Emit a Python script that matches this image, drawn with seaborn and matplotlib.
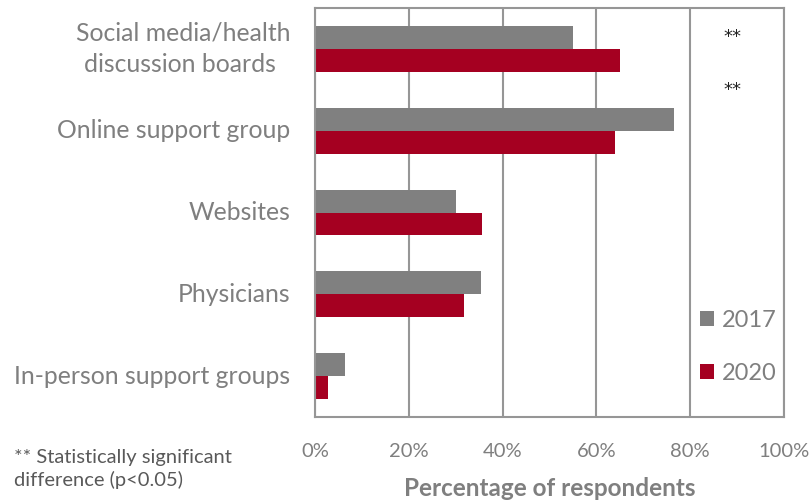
import matplotlib
matplotlib.use("Agg")
import matplotlib.pyplot as plt
from matplotlib.patches import Patch
import seaborn as sns
import pandas as pd

# Information sources and share of respondents (%)
sources = [
    "Social media/health\ndiscussion boards ",
    "Online support group",
    "Websites",
    "Physicians",
    "In-person support groups",
]
years = ["2017", "2020"]
pct_2017 = [55.0, 76.5, 30.0, 35.5, 6.3]
pct_2020 = [65.0, 64.0, 35.6, 31.8, 2.8]
x_ticks = [0, 20, 40, 60, 80, 100]
x_tick_labels = ["0%", "20%", "40%", "60%", "80%", "100%"]

df = pd.DataFrame({
    "source": sources * 2,
    "year": [years[0]] * len(sources) + [years[1]] * len(sources),
    "pct": pct_2017 + pct_2020,
})

GREY = "#808080"
RED = "#A50021"
TEXT = "#7F7F7F"
LINE = "#969696"

sns.set_style("white")
plt.rcParams["font.family"] = ["Lato", "DejaVu Sans"]

fig = plt.figure(figsize=(8.11, 5.0), dpi=100)
ax = fig.add_axes([315 / 811, 1 - 417 / 500, (784 - 315) / 811, (417 - 8) / 500])

sns.barplot(
    data=df, y="source", x="pct", hue="year", order=sources, hue_order=years,
    palette=[GREY, RED], width=0.56, orient="h", ax=ax, legend=False,
    saturation=1, linewidth=0,
)

ax.set_xlim(0, 100)
ax.set_ylim(len(sources) - 0.5, -0.5)
ax.set_xticks(x_ticks)
ax.set_xticklabels(x_tick_labels)
ax.set_yticks(range(len(sources)))
ax.set_yticklabels(sources, ha="right", va="center", multialignment="center",
                   linespacing=1.42)
ax.set_yticks([i - 0.5 for i in range(len(sources) + 1)], minor=True)

ax.tick_params(axis="y", which="major", length=0, pad=18, labelsize=17.8, labelcolor=TEXT)
ax.tick_params(axis="y", which="minor", length=7, width=1.5, color=LINE, direction="out")
ax.tick_params(axis="x", which="major", length=7, width=1.5, color=LINE, direction="out",
               pad=12, labelsize=14.5, labelcolor=TEXT)

ax.xaxis.grid(True, color=LINE, linewidth=1.5)
ax.set_axisbelow(True)
for side in ["left", "right", "top", "bottom"]:
    ax.spines[side].set_visible(True)
    ax.spines[side].set_color(LINE)
    ax.spines[side].set_linewidth(1.5)

ax.set_ylabel("")
ax.set_xlabel("Percentage of respondents", fontsize=17.5, fontweight="bold",
              color=TEXT, labelpad=12)

# Significance markers
for y in (-0.14, 0.5):
    ax.text(89, y, "**", ha="center", va="center", fontsize=13,
            color="#222222", family="DejaVu Sans")

handles = [Patch(facecolor=GREY, edgecolor="none"), Patch(facecolor=RED, edgecolor="none")]
leg = ax.legend(handles, years, loc="upper left", bbox_to_anchor=(0.8, 0.285),
                frameon=False, fontsize=17, handlelength=0.6, handleheight=0.6,
                handletextpad=0.35, labelspacing=1.35, borderaxespad=0)
for t in leg.get_texts():
    t.set_color(TEXT)

fig.text(14 / 811, 1 - 469 / 500, "** Statistically significant\ndifference (p<0.05)",
         ha="left", va="center", fontsize=14.5, color="#595959", linespacing=1.3)

fig.savefig("out.png", dpi=100)
